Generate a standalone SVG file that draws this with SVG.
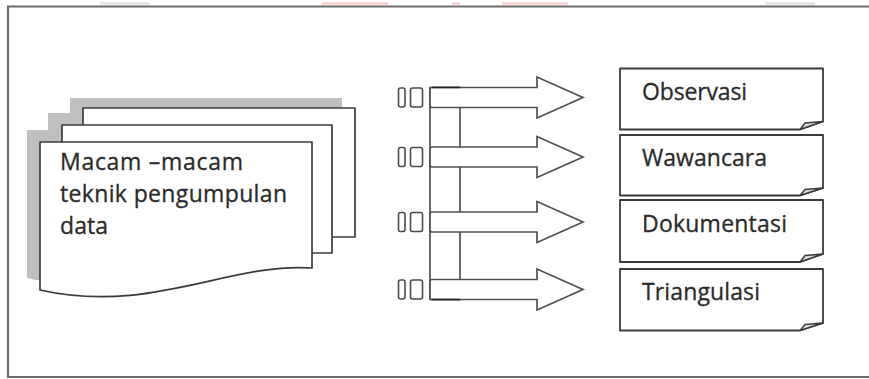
<svg xmlns="http://www.w3.org/2000/svg" width="869" height="379" viewBox="0 0 869 379">
  <style>
    .frame { fill: none; stroke: #6a6a6a; stroke-width: 2.2; }
    .shadow { fill: #bfbfbf; stroke: none; }
    .sheet { fill: #ffffff; stroke: #3a3a3a; stroke-width: 1.7; stroke-linejoin: round; }
    .tag { fill: #ffffff; stroke: #4a4a4a; stroke-width: 1.6; }
    .arrow { fill: #ffffff; stroke: #4f4f4f; stroke-width: 1.7; stroke-linejoin: miter; }
    .bracket { fill: none; stroke: #4f4f4f; stroke-width: 1.7; }
    .edge { fill: none; stroke: #222222; stroke-width: 1.7; }
    .box { fill: #ffffff; stroke: #3a3a3a; stroke-width: 1.8; stroke-linejoin: round; }
    .fold { fill: #d9d9d9; stroke: #3a3a3a; stroke-width: 1.4; stroke-linejoin: round; }
    .label { font-family: "Open Sans", "Noto Sans", "Liberation Sans", sans-serif; font-size: 23px; fill: #2a2a2a; stroke: #2a2a2a; stroke-width: 0.3; }
  </style>
  <defs>
    <!-- one horizontal block arrow, centred on y=0 -->
    <path id="blockArrow" d="M432,-10 H537 V-20.5 L583,0 L537,20.5 V10 H432 Q430,10 430,8 V-8 Q430,-10 432,-10 Z"/>
    <!-- pair of small tabs in front of each arrow -->
    <g id="tabs">
      <rect x="398.5" y="-9.5" width="6.5" height="19" rx="2"/>
      <rect x="410.5" y="-9.5" width="12" height="19" rx="2"/>
    </g>
    <!-- front page outline with wavy bottom edge -->
    <path id="frontPage" d="M40,142 H312 V268 C230,262 150,315 40,290 Z"/>
  </defs>

  <rect width="869" height="379" fill="#ffffff"/>

  <!-- faint marks above the frame -->
  <g opacity="0.3">
    <rect x="100" y="2" width="50" height="3" fill="#b0b0b0"/>
    <rect x="322" y="2" width="66" height="3" fill="#f08080"/>
    <rect x="452" y="2" width="8" height="3" fill="#f08080"/>
    <rect x="502" y="2" width="66" height="3" fill="#f08080"/>
    <rect x="765" y="2" width="50" height="3" fill="#b0b0b0"/>
  </g>

  <!-- outer frame (open on the right) -->
  <path class="frame" d="M869,6.5 H8 V377 H869"/>

  <!-- stacked documents -->
  <g id="documents">
    <rect class="shadow" x="70" y="98" width="272" height="129"/>
    <rect class="shadow" x="48" y="113" width="270" height="128"/>
    <use href="#frontPage" class="shadow" transform="translate(-13,-12)"/>
    <rect class="sheet" x="83" y="108" width="272" height="129"/>
    <rect class="sheet" x="62" y="125" width="270" height="128"/>
    <use href="#frontPage" class="sheet"/>
    <text class="label" x="60" y="170" textLength="183">Macam –macam</text>
    <text class="label" x="60" y="202" textLength="227">teknik pengumpulan</text>
    <text class="label" x="60" y="234" textLength="48">data</text>
  </g>

  <!-- connectors: bracket spine and block arrows -->
  <g id="connectors">
    <rect class="bracket" x="430" y="87.5" width="30" height="212"/>
    <g class="tag">
      <use href="#tabs" transform="translate(0,97.5)"/>
      <use href="#tabs" transform="translate(0,157)"/>
      <use href="#tabs" transform="translate(0,222)"/>
      <use href="#tabs" transform="translate(0,289.5)"/>
    </g>
    <g class="arrow">
      <use href="#blockArrow" transform="translate(0,97.5)"/>
      <use href="#blockArrow" transform="translate(0,157)"/>
      <use href="#blockArrow" transform="translate(0,222)"/>
      <use href="#blockArrow" transform="translate(0,289.5)"/>
    </g>
    <path class="edge" d="M432,87.5 H460 M432,299.5 H460"/>
  </g>

  <!-- folded-corner boxes -->
  <g id="observasi">
    <path class="box" d="M620,68.5 H823 V121.5 L800,129.5 H620 Z"/>
    <path class="fold" d="M800,129.5 L805,123 L823,121.5 Z"/>
    <text class="label" x="642" y="100" textLength="105">Observasi</text>
  </g>
  <g id="wawancara">
    <path class="box" d="M620,135 H823 V188 L800,195.5 H620 Z"/>
    <path class="fold" d="M800,195.5 L805,189.5 L823,188 Z"/>
    <text class="label" x="642" y="165.5" textLength="125">Wawancara</text>
  </g>
  <g id="dokumentasi">
    <path class="box" d="M620,200 H823 V254 L800,262 H620 Z"/>
    <path class="fold" d="M800,262 L805,255.5 L823,254 Z"/>
    <text class="label" x="642" y="232" textLength="145">Dokumentasi</text>
  </g>
  <g id="triangulasi">
    <path class="box" d="M620,269 H823 V323 L800,330.5 H620 Z"/>
    <path class="fold" d="M800,330.5 L805,324.5 L823,323 Z"/>
    <text class="label" x="642" y="300" textLength="118">Triangulasi</text>
  </g>
</svg>
